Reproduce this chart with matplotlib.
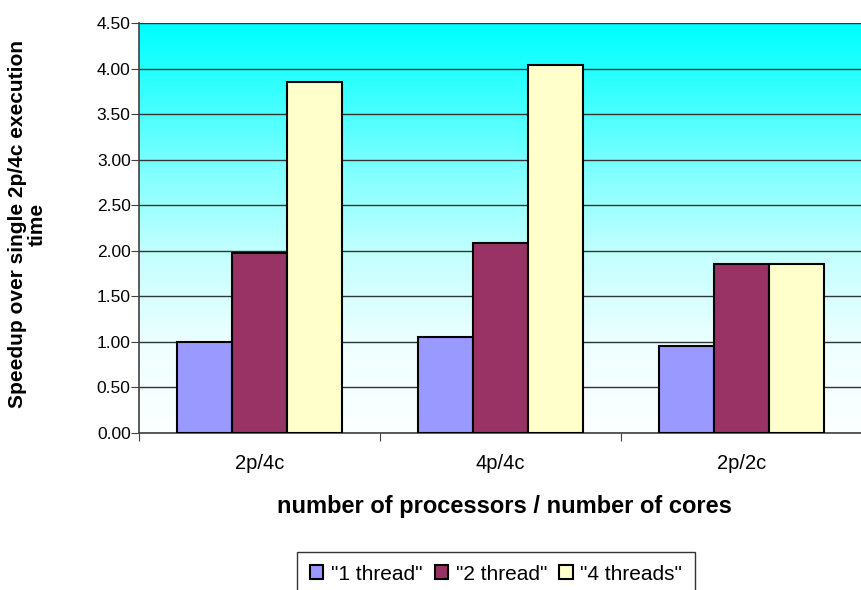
import numpy as np
import matplotlib.pyplot as plt

plt.rcParams['font.family'] = ['Liberation Sans', 'DejaVu Sans']

# speedup data
configs = ["2p/4c", "4p/4c", "2p/2c"]
series = ['"1 thread"', '"2 thread"', '"4 threads"']
one_thread = [1.00, 1.05, 0.96]
two_thread = [1.98, 2.09, 1.85]
four_threads = [3.85, 4.04, 1.85]
colors = ["#9999FF", "#993366", "#FFFFCC"]
yticks = [0.0, 0.5, 1.0, 1.5, 2.0, 2.5, 3.0, 3.5, 4.0, 4.5]

fig = plt.figure(figsize=(8.62, 5.9), dpi=100)
ax = fig.add_axes([139 / 862, 1 - 433 / 590, 1 - 139 / 862, (433 - 23) / 590])

# cyan (top) -> white (bottom) gradient behind the bars
pos = np.linspace(0, 1, 256)
red = np.interp(pos, [0, 0.11, 0.36, 0.56, 0.8, 1.0], [0, 34, 128, 195, 240, 252])
grad = np.ones((256, 1, 3))
grad[:, 0, 0] = red / 255
ax.imshow(grad, extent=[-0.5, 2.5, 0, 4.5], origin='upper', aspect='auto',
          zorder=0, interpolation='bilinear')

x = np.arange(len(configs))
w = 0.228
for i, (vals, c, lab) in enumerate(zip([one_thread, two_thread, four_threads], colors, series)):
    ax.bar(x + (i - 1) * w, vals, w, color=c, edgecolor='black', linewidth=1.5,
           label=lab, zorder=3)

ax.set_xlim(-0.5, 2.5)
ax.set_ylim(0, 4.5)
ax.set_yticks(yticks)
ax.set_yticklabels([f"{v:.2f}" for v in yticks], fontsize=12.5)
ax.yaxis.grid(True, color='#333333', linewidth=1)
ax.set_axisbelow(True)
for gl in ax.get_ygridlines():
    gl.set_zorder(1)

# category boundaries as major ticks, names on minor ticks
ax.set_xticks([-0.5, 0.5, 1.5])
ax.set_xticklabels([])
ax.set_xticks(x, minor=True)
ax.set_xticklabels(configs, minor=True, fontsize=14.5)
ax.tick_params(axis='x', which='major', length=6, direction='out', color='#404040')
ax.tick_params(axis='x', which='minor', length=0, pad=15)
ax.tick_params(axis='y', length=6, direction='out', color='#404040', pad=0)

for s in ['top', 'right']:
    ax.spines[s].set_visible(False)
for s in ['left', 'bottom']:
    ax.spines[s].set_color('#404040')
    ax.spines[s].set_linewidth(1.2)

fig.text(504 / 862, 1 - 507 / 590, "number of processors / number of cores",
         ha='center', va='center', fontsize=17, fontweight='bold')
fig.text(27 / 862, 1 - 224 / 590, "Speedup over single 2p/4c execution\ntime",
         ha='center', va='center', rotation=90, fontsize=15, fontweight='bold',
         multialignment='center', linespacing=1.05)

leg = fig.legend(loc='upper center', bbox_to_anchor=(496 / 862, 1 - 552 / 590),
                 ncol=3, fontsize=15, frameon=True, fancybox=False,
                 handlelength=0.65, handleheight=0.65, handletextpad=0.35,
                 columnspacing=0.6, borderpad=0.6, borderaxespad=0,
                 edgecolor='black')
leg.get_frame().set_linewidth(1.0)

fig.savefig("out.png", dpi=100)
